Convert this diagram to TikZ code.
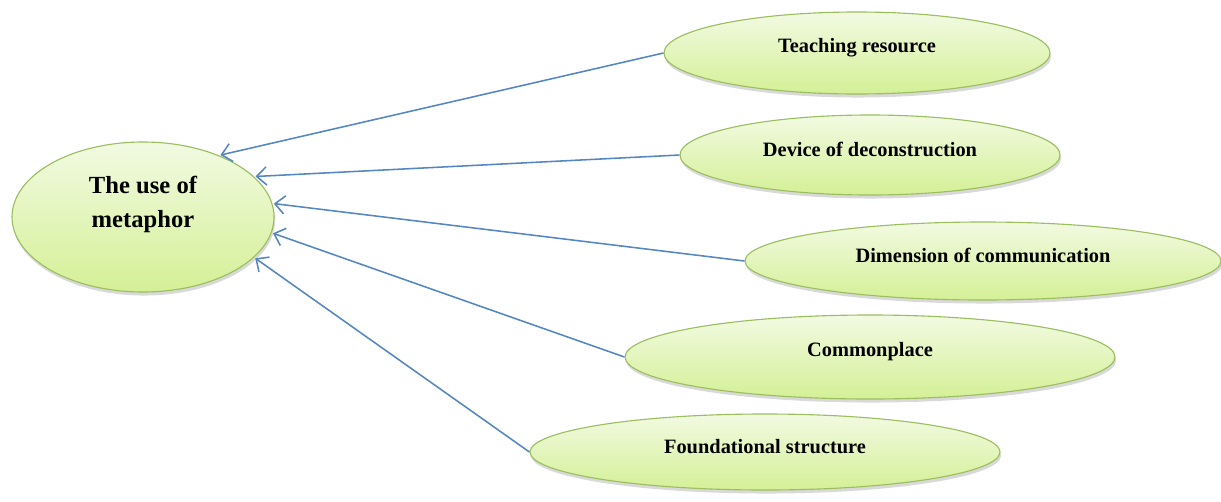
\documentclass[tikz,border=0pt]{standalone}
\usepackage{fontspec}
\setmainfont{Liberation Serif}
\usetikzlibrary{shapes.geometric,arrows.meta,shadows}

\definecolor{leafedge}{RGB}{155,190,95}
\definecolor{leaftop}{RGB}{242,250,226}
\definecolor{leafbot}{RGB}{212,240,150}
\definecolor{connblue}{RGB}{84,134,196}

\tikzset{
  leaf/.style={ellipse,draw=leafedge,line width=0.8pt,inner sep=0pt,
    top color=leaftop,bottom color=leafbot,
    drop shadow={shadow xshift=0.8pt,shadow yshift=-2.5pt,opacity=0.3}},
  lbl/.style={font=\bfseries\fontsize{14.5}{17}\selectfont},
  conn/.style={draw=connblue,line width=1.1pt,-{Straight Barb[length=7pt,width=13pt]},
    shorten >=1pt}
}

\begin{document}
\begin{tikzpicture}[x=0.025cm,y=-0.025cm]
    \useasboundingbox (0,0) rectangle (1221,501);
    \node[leaf,minimum width=262*0.025cm,minimum height=150*0.025cm] (use) at (143,217) {};
    \node[lbl,font=\bfseries\fontsize{17.5}{24}\selectfont,align=center] (uselbl)
      at ([yshift=9pt]use.center) {The use of\\metaphor};
    \foreach \name/\x/\y/\w/\h/\txt/\ang in {
        teach/857/53/386/82/Teaching resource/39,
        device/870/155/380/80/Device of deconstruction/20,
        dimen/983/261/476/78/Dimension of communication/6,
        common/870/357/490/84/Commonplace/-7,
        found/765/452/470/76/Foundational structure/-20}{
        \node[leaf,minimum width=\w*0.025cm,minimum height=\h*0.025cm]
        (\name) at (\x,\y) {};
        \node[lbl] (\name lbl) at ([yshift=4pt]\name.center) {\txt};
        \draw[conn] (\name.west) -- (use.\ang);
      }
  \end{tikzpicture}
\end{document}
